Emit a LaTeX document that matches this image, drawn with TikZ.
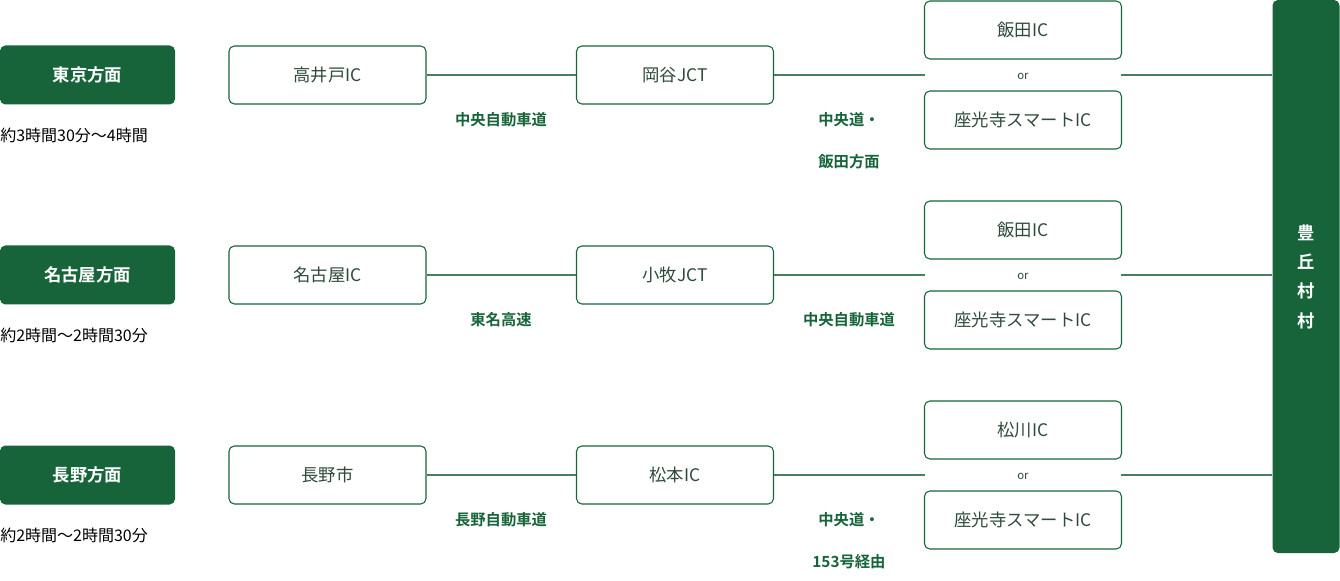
\documentclass[tikz,border=0pt]{standalone}
\usepackage{fontspec}
\newfontfamily\jp{Noto Sans CJK JP}
\newfontfamily\jpb{Noto Sans CJK JP Bold}
\usetikzlibrary{positioning}
\definecolor{dgreen}{HTML}{17643A}
\definecolor{ngray}{HTML}{2F4A3A}
\definecolor{lgreen}{HTML}{4A7F5E}
\tikzset{
  dirbox/.style={rectangle,rounded corners=4pt,fill=dgreen,text=white,minimum width=131.25pt,minimum height=44.25pt,font=\jpb\fontsize{13}{15}\selectfont},
  icbox/.style={rectangle,rounded corners=4pt,draw=dgreen,line width=0.8pt,fill=white,text=ngray,minimum width=147.75pt,minimum height=43.5pt,font=\jp\fontsize{13}{15}\selectfont},
  roadlbl/.style={text=dgreen,font=\jpb\fontsize{11.5}{14}\selectfont},
  timelbl/.style={anchor=west,inner sep=0pt,text=black,font=\jp\fontsize{12}{14}\selectfont},
  orlbl/.style={text=ngray,font=\jp\fontsize{8.5}{10}\selectfont},
  link/.style={draw=lgreen,line width=0.8pt}
}
\begin{document}
\begin{tikzpicture}[x=0.75pt,y=-0.75pt]
\useasboundingbox (0,0) rectangle (1340,581);
% destination
\node[rectangle,rounded corners=4pt,fill=dgreen,minimum width=50.25pt,minimum height=414.75pt] (dest) at (1306,276.5) {};
\node[text=white,font=\jpb\fontsize{13}{22}\selectfont,align=center] at (dest) {豊\\丘\\村\\村};
% rows
\foreach \y/\from/\time/\ica/\icb/\exa/\roada/\roadb/\roadc/\rb in {%
  75/東京方面/約3時間30分～4時間/高井戸IC/岡谷JCT/飯田IC/中央自動車道/中央道・/飯田方面/1,
  275/名古屋方面/約2時間～2時間30分/名古屋IC/小牧JCT/飯田IC/東名高速/中央自動車道//0,
  475/長野方面/約2時間～2時間30分/長野市/松本IC/松川IC/長野自動車道/中央道・/153号経由/1}{
  \node[dirbox] (dir) at (87.5,\y) {\from};
  \node[timelbl] (tm) at (0,\y+60) {\time};
  \node[icbox] (ic1) at (327.5,\y) {\ica};
  \node[icbox] (ic2) at (675,\y) {\icb};
  \node[icbox] (exa) at (1023,\y-45) {\exa};
  \node[icbox] (exb) at (1023,\y+45) {座光寺スマートIC};
  \node[orlbl] (or) at (1023,\y+1) {or};
  \coordinate (jl) at (925,\y);
  \coordinate (jr) at (1121,\y);
  \path[link] (ic1.east) -- (ic2.west);
  \path[link] (ic2.east) -- (jl);
  \path[link] (jr) -- (dest.west |- jr);
  \node[roadlbl] (ra) at (501,\y+45) {\roada};
  \ifnum\rb=1
    \node[roadlbl] (rb) at (849,\y+45) {\roadb};
    \node[roadlbl] (rc) at (849,\y+87) {\roadc};
  \else
    \node[roadlbl] (rb) at (849,\y+45) {\roadb};
  \fi
}
\end{tikzpicture}
\end{document}
